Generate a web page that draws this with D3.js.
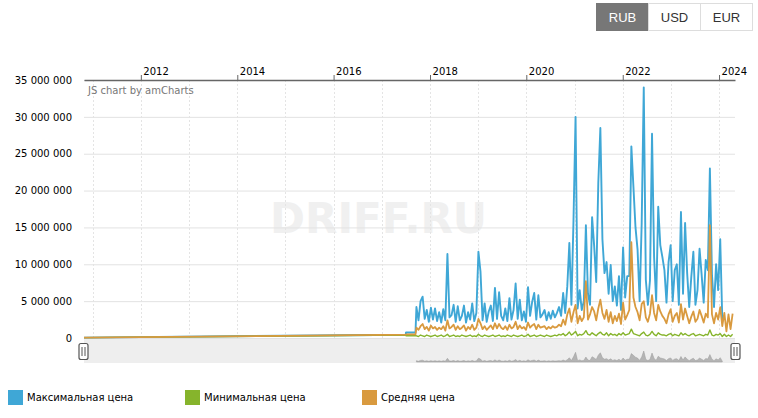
<!DOCTYPE html>
<html><head><meta charset="utf-8">
<script src="https://cdn.jsdelivr.net/npm/d3@7"></script>
<style>
html,body{margin:0;padding:0;background:#fff;}
svg{display:block;font-family:"DejaVu Sans",Verdana,sans-serif;}
</style></head>
<body>
<svg id="c" width="758" height="418"></svg>
<script>
// ---- data (values in millions of RUB) ----
const currencies = ["RUB","USD","EUR"];
const seriesNames = ["Максимальная цена","Минимальная цена","Средняя цена"];
const yearTicks = [2012,2014,2016,2018,2020,2022,2024];
const yTicks = [0,5,10,15,20,25,30,35];

const preDates = ["2010-10-27","2017-07-01","2017-07-03","2017-09-13"];
const preMax = [0.05,0.45,0.75,0.75];
const preAvg = [0.05,0.45,0.5,0.5];
const preMin = [0.05,0.4,0.3,0.3];

const mainStart = "2017-09-20";
const stepHours = 376;

const maxPrice = [4.2,2.4,5.0,5.6,2.6,3.8,2.2,4.1,2.5,4.0,
 2.3,3.5,2.1,3.9,2.4,11.4,2.8,3.1,4.5,2.2,
 4.3,2.4,3.0,4.4,2.1,3.5,2.5,4.7,2.3,3.4,
 11.7,9.0,2.4,4.7,2.2,3.6,4.4,2.3,6.8,2.6,
 6.2,3.0,2.4,4.0,2.3,5.4,2.5,3.8,7.4,2.6,
 5.2,2.4,3.6,2.2,6.9,3.0,4.9,6.1,2.5,5.8,
 2.8,3.2,3.8,2.4,3.5,2.6,3.7,2.8,3.4,4.2,
 3.0,6.1,3.4,7.0,12.9,4.5,15.9,30.0,4.0,6.5,
 3.8,5.0,15.3,6.0,4.5,16.4,12.5,7.6,21.0,28.5,
 13.4,8.8,10.3,6.0,9.9,5.0,7.0,4.4,8.4,3.8,
 12.3,5.5,8.4,8.4,26.0,20.5,15.0,12.0,5.0,15.6,
 34.0,7.9,4.5,7.8,27.7,11.0,5.0,17.8,12.6,11.0,
 9.2,4.8,10.3,12.6,5.0,9.2,10.0,4.5,17.1,6.0,
 15.6,8.8,4.2,8.3,11.7,4.5,6.5,12.1,8.6,4.8,
 10.6,9.2,23.0,8.6,4.2,10.0,6.5,13.4,2.5];

const avgPrice = [1.4,1.1,1.6,1.9,1.2,1.5,1.0,1.7,1.3,1.5,
 1.1,1.4,1.2,1.6,1.0,2.4,1.3,1.5,1.8,1.1,
 1.6,1.2,1.4,1.7,1.0,1.5,1.2,1.8,1.1,1.4,
 2.6,2.0,1.2,1.6,1.1,1.4,1.7,1.2,2.0,1.3,
 1.9,1.4,1.2,1.6,1.1,1.8,1.3,1.5,2.2,1.2,
 1.7,1.3,1.5,1.1,2.1,1.4,1.7,1.9,1.2,1.8,
 1.4,1.5,1.6,1.2,1.5,1.3,1.6,1.4,1.5,1.8,
 1.6,2.5,1.8,3.2,4.0,2.2,3.5,4.5,2.0,3.0,
 2.3,2.8,7.7,2.5,3.2,4.2,3.6,2.4,4.0,5.2,
 3.4,2.6,3.8,2.2,3.5,2.0,3.0,2.3,3.3,1.9,
 4.8,2.5,3.1,3.8,13.0,5.5,4.2,3.5,2.4,4.6,
 5.0,2.8,2.2,3.3,5.8,3.4,2.4,4.5,3.6,3.0,
 2.6,2.0,3.2,3.9,2.2,3.0,3.4,2.1,4.6,2.5,
 4.0,3.0,2.0,2.9,3.6,2.2,2.6,3.8,3.0,2.1,
 3.3,2.8,15.3,3.2,2.0,3.4,2.5,4.2,1.6,3.4,
 0.9,3.2,1.2,3.3];

const minPrice = [0.3,0.2,0.4,0.3,0.2,0.4,0.3,0.2,0.3,0.4,
 0.2,0.3,0.4,0.2,0.3,0.5,0.2,0.3,0.4,0.2,
 0.3,0.2,0.4,0.3,0.2,0.3,0.4,0.2,0.3,0.2,
 0.5,0.3,0.2,0.4,0.3,0.2,0.3,0.4,0.2,0.3,
 0.4,0.2,0.3,0.2,0.4,0.3,0.2,0.4,0.3,0.2,
 0.3,0.4,0.2,0.3,0.5,0.2,0.3,0.4,0.2,0.3,
 0.4,0.3,0.2,0.4,0.3,0.2,0.3,0.4,0.3,0.5,
 0.4,0.6,0.3,0.5,0.8,0.4,0.6,0.9,0.3,0.5,
 0.4,0.6,1.0,0.5,0.4,0.7,0.5,0.3,0.6,0.8,
 0.5,0.4,0.7,0.3,0.6,0.4,0.5,0.3,0.6,0.4,
 0.7,0.4,0.5,0.6,1.2,0.6,0.5,0.4,0.3,0.6,
 0.8,0.4,0.3,0.5,0.9,0.5,0.3,0.7,0.5,0.4,
 0.4,0.3,0.5,0.6,0.3,0.5,0.4,0.3,0.7,0.4,
 0.6,0.4,0.3,0.5,0.6,0.3,0.4,0.5,0.4,0.3,
 0.5,0.4,1.1,0.4,0.3,0.5,0.4,0.6,0.2,0.5,
 0.2,0.4,0.2,0.5];

const colors = {max:"#3fa7d6", min:"#86b42c", avg:"#d99a3f"};

// ---- build ----
const parse = d3.timeParse("%Y-%m-%d");
const start = parse(mainStart);
const mainDates = d3.range(avgPrice.length).map(i => d3.timeHour.offset(start, stepHours*i));
function build(pre, main){
  return pre.map((v,i)=>({d:parse(preDates[i]), v:v*1e6}))
    .concat(main.map((v,i)=>({d:mainDates[i], v:v*1e6})));
}
const dMax = build(preMax, maxPrice), dAvg = build(preAvg, avgPrice), dMin = build(preMin, minPrice);

const svg = d3.select("#c");
const L=84, R=735, T=80, B=338;
const x = d3.scaleTime().domain([parse("2010-10-27"), parse("2024-05-01")]).range([L,R]);
const y = d3.scaleLinear().domain([0,35e6]).range([B,T]);
const loc = d3.formatLocale({decimal:".", thousands:"\u00a0", grouping:[3], currency:["",""]});
const fmt = loc.format(",");

// watermark
svg.append("text").attr("x",270).attr("y",233).attr("textLength",217).attr("lengthAdjust","spacingAndGlyphs")
  .style("font-size","43px").style("font-weight","bold").attr("fill","#f0f0f0").text("DRIFF.RU");

// horizontal grid
svg.append("g").selectAll("line").data(yTicks).join("line")
  .attr("x1",L).attr("x2",R).attr("y1",d=>y(d*1e6)+0.5).attr("y2",d=>y(d*1e6)+0.5)
  .attr("stroke","#e2e2e2");
// vertical dotted grid each year
const years = d3.range(2011,2025).map(yr=>new Date(yr,0,1));
svg.append("g").selectAll("line").data(years).join("line")
  .attr("x1",d=>Math.round(x(d))+0.5).attr("x2",d=>Math.round(x(d))+0.5).attr("y1",T).attr("y2",B)
  .attr("stroke","#e4e4e4").attr("stroke-dasharray","2,2");

// y axis
const yAxis = svg.append("g").attr("transform",`translate(${L},0)`)
  .call(d3.axisLeft(y).tickValues(yTicks.map(v=>v*1e6)).tickSize(0).tickPadding(12).tickFormat(d=>fmt(d)));
yAxis.select(".domain").remove();
yAxis.selectAll("text").style("font-size","10px").attr("fill","#000").style("font-family","'DejaVu Sans',Verdana,sans-serif");

// top axis
const xAxis = svg.append("g").attr("transform",`translate(0,${T})`)
  .call(d3.axisTop(x).tickValues(yearTicks.map(yr=>new Date(yr,0,1))).tickSizeInner(5).tickSizeOuter(0).tickFormat(d3.timeFormat("%Y")));
xAxis.select(".domain").attr("stroke","#666").attr("stroke-width",1.5);
xAxis.selectAll(".tick line").attr("stroke","#666");
xAxis.selectAll("text").attr("text-anchor","start").attr("x",2).attr("y",-5).attr("dy",0)
  .style("font-size","10px").attr("fill","#000").style("font-family","'DejaVu Sans',Verdana,sans-serif");

svg.append("text").attr("x",88).attr("y",94).style("font-size","10px").attr("fill","#777").text("JS chart by amCharts");

// lines
const line = d3.line().x(d=>x(d.d)).y(d=>y(d.v));
svg.append("path").datum(dMax).attr("d",line).attr("fill","none").attr("stroke",colors.max).attr("stroke-width",1.9).attr("stroke-linejoin","round");
svg.append("path").datum(dMin).attr("d",line).attr("fill","none").attr("stroke",colors.min).attr("stroke-width",1.4).attr("stroke-linejoin","round");
svg.append("path").datum(dAvg).attr("d",line).attr("fill","none").attr("stroke",colors.avg).attr("stroke-width",1.8).attr("stroke-linejoin","round");

// scrollbar
svg.append("rect").attr("x",L).attr("y",B+1).attr("width",R-L).attr("height",24).attr("fill","#eeeeee");
const ys = d3.scaleLinear().domain([0,34e6]).range([362,351]);
const sData = dMax.slice(preDates.length);
svg.append("path").datum(sData)
  .attr("d", d3.area().x(d=>x(d.d)).y0(362).y1(d=>ys(d.v)))
  .attr("fill","#b4b4b4").attr("stroke","#9a9a9a").attr("stroke-width",0.5);
function grip(cx){
  const g = svg.append("g");
  g.append("rect").attr("x",cx-4.5).attr("y",343.5).attr("width",9).attr("height",16).attr("rx",2)
    .attr("fill","#fff").attr("stroke","#555").attr("stroke-width",1.2);
  g.append("line").attr("x1",cx-1.5).attr("x2",cx-1.5).attr("y1",347).attr("y2",356).attr("stroke","#555");
  g.append("line").attr("x1",cx+1.5).attr("x2",cx+1.5).attr("y1",347).attr("y2",356).attr("stroke","#555");
}
grip(83.5); grip(735.5);

// legend
const legColors = [colors.max, colors.min, colors.avg];
const legX = [8,185,362];
seriesNames.forEach((n,i)=>{
  svg.append("rect").attr("x",legX[i]).attr("y",390).attr("width",15).attr("height",15).attr("fill",legColors[i]);
  svg.append("text").attr("x",legX[i]+19).attr("y",401).style("font-size","10px").attr("fill","#000").text(n);
});

// currency buttons
const bx = [596,648,700];
currencies.forEach((c,i)=>{
  const active = i===0;
  svg.append("rect").attr("x",bx[i]+0.5).attr("y",3.5).attr("width",52).attr("height",27)
    .attr("fill",active?"#777":"#fff").attr("stroke",active?"#777":"#ddd");
  svg.append("text").attr("x",bx[i]+26.5).attr("y",22).attr("text-anchor","middle")
    .style("font-family","'Liberation Sans',Arial,sans-serif").style("font-size","13px")
    .attr("fill",active?"#fff":"#333").text(c);
});
</script>
</body></html>
